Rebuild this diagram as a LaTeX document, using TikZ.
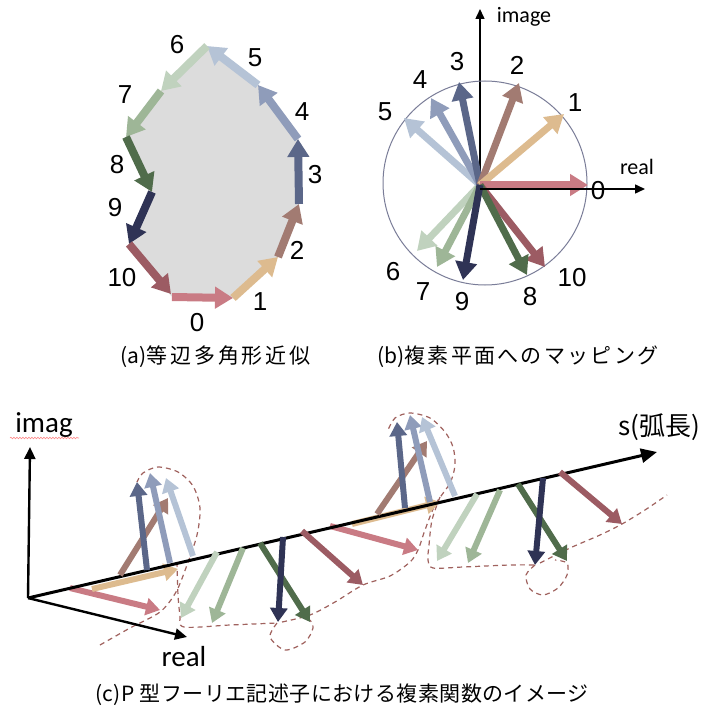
\documentclass[tikz,border=0pt]{standalone}
\usepackage{fontspec}
\setmainfont{Liberation Sans}
\newfontfamily\cjk{Noto Sans CJK JP}
\newfontfamily\cjkA[LetterSpace=14]{Noto Sans CJK JP}
\newfontfamily\cjkB[LetterSpace=11]{Noto Sans CJK JP}
\newfontfamily\cjkC[LetterSpace=2]{Noto Sans CJK JP}
\newfontfamily\calfont{Carlito}
\usetikzlibrary{arrows.meta,decorations.pathmorphing}
\definecolor{c0}{HTML}{C97B84}
\definecolor{c1}{HTML}{DDBB8F}
\definecolor{c2}{HTML}{A27B72}
\definecolor{c3}{HTML}{5B6789}
\definecolor{c4}{HTML}{8F9CBA}
\definecolor{c5}{HTML}{B5C3D6}
\definecolor{c6}{HTML}{C0D2BE}
\definecolor{c7}{HTML}{9EB697}
\definecolor{c8}{HTML}{506C4B}
\definecolor{c9}{HTML}{2F3355}
\definecolor{c10}{HTML}{9C5B63}
\definecolor{dashc}{HTML}{A0625E}
\definecolor{circc}{HTML}{7A7D98}
\definecolor{polyc}{HTML}{DCDCDC}
\begin{document}
\begin{tikzpicture}[x=1pt,y=-1pt,
  arrA/.style={line width=8pt,-{Triangle[length=18pt,width=21pt]}},
  arrB/.style={line width=7pt,-{Triangle[length=18pt,width=21pt]}},
  arrC/.style={line width=6pt,-{Triangle[length=14pt,width=17pt]}},
  axB/.style={line width=1.5pt,-{Triangle[length=10pt,width=9pt]}},
  axC/.style={line width=2.4pt,-{Triangle[length=12pt,width=11pt]}},
  num/.style={font=\fontsize{26}{26}\selectfont, inner sep=0pt},
  lbl/.style={font=\calfont\fontsize{22}{22}\selectfont, inner sep=0pt},
  lblc/.style={font=\calfont\fontsize{29}{29}\selectfont, inner sep=0pt},
  captxt/.style={font=\cjk\fontsize{21}{21}\selectfont, inner sep=0pt, anchor=west},
  dsh/.style={draw=dashc, line width=1.2pt, dash pattern=on 5pt off 4pt},
]
\fill[white] (0,0) rectangle (708,711);
\useasboundingbox (0,0) rectangle (708,711);

% ---------------- panel (a)
\coordinate (a0) at (172,297);
\coordinate (a1) at (233,298);
\coordinate (a2) at (278,257);
\coordinate (a3) at (299,204);
\coordinate (a4) at (298,139);
\coordinate (a5) at (258,85);
\coordinate (a6) at (207,46);
\coordinate (a7) at (161,91);
\coordinate (a8) at (126,137);
\coordinate (a9) at (152,192);
\coordinate (a10) at (129,244);
\coordinate (a11) at (171,294);
\fill[polyc] (a0) -- (a1) -- (a2) -- (a3) -- (a4) -- (a5) -- (a6) -- (a7) -- (a8) -- (a9) -- (a10) -- cycle;
\draw[arrA,c0] (a0) -- (a1);
\draw[arrA,c1] (a1) -- (a2);
\draw[arrA,c2] (a2) -- (a3);
\draw[arrA,c3] (a3) -- (a4);
\draw[arrA,c4] (a4) -- (a5);
\draw[arrA,c5] (a5) -- (a6);
\draw[arrA,c6] (a6) -- (a7);
\draw[arrA,c7] (a7) -- (a8);
\draw[arrA,c8] (a8) -- (a9);
\draw[arrA,c9] (a9) -- (a10);
\draw[arrA,c10] (a10) -- (a11);
\node[num] (la0) at (197,323) {0};
\node[num] (la1) at (260,302) {1};
\node[num] (la2) at (297,250) {2};
\node[num] (la3) at (315,175) {3};
\node[num] (la4) at (302,112) {4};
\node[num] (la5) at (255,58) {5};
\node[num] (la6) at (177,45) {6};
\node[num] (la7) at (125,95) {7};
\node[num] (la8) at (117,165) {8};
\node[num] (la9) at (115,208) {9};
\node[num] (la10) at (122,278) {10};

% ---------------- panel (b)
\coordinate (bo) at (480,185);
\coordinate (bimg) at (480,9);
\coordinate (bax) at (480,189);
\coordinate (breal) at (645,189);
\draw[axB] (bo) -- (bimg);
\draw[circc,line width=1pt] (485,183) circle [radius=102pt];
\coordinate (b0) at (588,185);
\coordinate (b1) at (564,114);
\coordinate (b2) at (519,83);
\coordinate (b3) at (459,82);
\coordinate (b4) at (431,98);
\coordinate (b5) at (404,118);
\coordinate (b6) at (417,251);
\coordinate (b7) at (437,267);
\coordinate (b8) at (527,275);
\coordinate (b9) at (463,280);
\coordinate (b10) at (545,267);
\draw[arrB,c6] (bo) -- (b6);
\draw[arrB,c7] (bo) -- (b7);
\draw[arrB,c5] (bo) -- (b5);
\draw[arrB,c4] (bo) -- (b4);
\draw[arrB,c3] (bo) -- (b3);
\draw[arrB,c2] (bo) -- (b2);
\draw[arrB,c1] (bo) -- (b1);
\draw[arrB,c0] (bo) -- (b0);
\draw[arrB,c10] (bo) -- (b10);
\draw[arrB,c8] (bo) -- (b8);
\draw[arrB,c9] (bo) -- (b9);
\node[num] (lb0) at (598,191) {0};
\node[num] (lb1) at (575,103) {1};
\node[num] (lb2) at (517,65) {2};
\node[num] (lb3) at (457,62) {3};
\node[num] (lb4) at (420,80) {4};
\node[num] (lb5) at (385,112) {5};
\node[num] (lb6) at (393,272) {6};
\node[num] (lb7) at (423,292) {7};
\node[num] (lb8) at (530,297) {8};
\node[num] (lb9) at (462,302) {9};
\node[num] (lb10) at (572,278) {10};
\draw[axB] (bax) -- (breal);
\node[lbl] (limage) at (524,17) {image};
\node[lbl] (lreal) at (637,167) {real};

% captions
\node[captxt] (capa) at (120,357) {(a){\cjkA\fontsize{21}{21}\selectfont 等辺多角形近似}};
\node[captxt] (capb) at (377,357) {(b){\cjkB\fontsize{21}{21}\selectfont 複素平面へのマッピング}};
\node[captxt] (capc) at (95,695) {{\cjkC\fontsize{21}{21}\selectfont (c)P 型フーリエ記述子における複素関数のイメージ}};

% ---------------- panel (c)
\coordinate (co) at (28,598);
\coordinate (cimag) at (30,447);
\coordinate (creal) at (187,637);
\coordinate (cs) at (657,452);
\node[lblc] (limag) at (44,425) {imag};
\draw[decorate,decoration={snake,amplitude=0.8pt,segment length=3pt},draw=red!45,line width=0.6pt] (10,438) -- (79,438);
\node[lblc] (lrealc) at (184,657) {real};
\node[font=\cjk\fontsize{26}{26}\selectfont,inner sep=0pt] (ls) at (659,427) {s(弧長)};

% dashed trajectory
\draw[dsh] plot[smooth] coordinates {(100,645) (130,628) (160,612) (176,592) (187,565) (197,535) (200,508) (193,486) (178,472) (158,467) (143,473) (137,482)};
\draw[dsh] plot[smooth] coordinates {(177,562) (178,595) (180,615) (184,627) (230,625) (277,623)};
\draw[dsh] plot[smooth] coordinates {(277,623) (270,637) (285,650) (305,642) (313,628) (310,620)};
\draw[dsh] plot[smooth] coordinates {(282,622) (310,615) (335,602) (363,585) (390,576) (410,562) (418,550) (425,530) (435,505) (450,483) (455,465) (453,447) (445,432) (430,418) (410,413) (395,418) (388,430)};
\draw[dsh] plot[smooth] coordinates {(440,497) (432,520) (429,545) (428,560) (433,568) (463,567) (510,565) (535,565)};
\draw[dsh] plot[smooth] coordinates {(535,565) (526,575) (530,589) (543,595) (558,588) (567,575) (567,563) (555,560)};
\draw[dsh] plot[smooth] coordinates {(540,563) (570,548) (600,535) (622,524) (645,510) (667,495)};

% axes
\draw[axC] (co) -- (cimag);
\draw[axC] (co) -- (creal);

% cluster 1
\coordinate (p0s) at (70,588);  \coordinate (p0e) at (160,610);
\coordinate (p1s) at (92,589);  \coordinate (p1e) at (178,569);
\coordinate (p2s) at (120,575); \coordinate (p2e) at (168,498);
\coordinate (p3s) at (147,570); \coordinate (p3e) at (137,482);
\coordinate (p4s) at (170,563); \coordinate (p4e) at (150,473);
\coordinate (p5s) at (193,556); \coordinate (p5e) at (166,478);
\coordinate (p6s) at (217,552); \coordinate (p6e) at (181,618);
\coordinate (p7s) at (243,548); \coordinate (p7e) at (212,623);
\coordinate (p8s) at (260,543); \coordinate (p8e) at (310,622);
\coordinate (p9s) at (283,537); \coordinate (p9e) at (278,622);
\coordinate (p10s) at (302,531); \coordinate (p10e) at (363,585);
% cluster 2
\coordinate (q0s) at (330,526); \coordinate (q0e) at (418,550);
\coordinate (q1s) at (352,524); \coordinate (q1e) at (440,502);
\coordinate (q2s) at (377,514); \coordinate (q2e) at (427,441);
\coordinate (q3s) at (405,508); \coordinate (q3e) at (397,422);
\coordinate (q4s) at (430,502); \coordinate (q4e) at (410,415);
\coordinate (q5s) at (455,496); \coordinate (q5e) at (422,417);
\coordinate (q6s) at (477,494); \coordinate (q6e) at (437,561);
\coordinate (q7s) at (500,490); \coordinate (q7e) at (468,563);
\coordinate (q8s) at (518,484); \coordinate (q8e) at (567,561);
\coordinate (q9s) at (543,478); \coordinate (q9e) at (535,565);
\coordinate (q10s) at (560,472); \coordinate (q10e) at (622,524);

\draw[arrC,c0] (p0s) -- (p0e);
\draw[arrC,c1] (p1s) -- (p1e);
\draw[arrC,c0] (q0s) -- (q0e);
\draw[arrC,c1] (q1s) -- (q1e);
\draw[line width=3pt,-{Triangle[length=16pt,width=14pt]}] (co) -- (cs);
\draw[arrC,c2] (p2s) -- (p2e);
\draw[arrC,c3] (p3s) -- (p3e);
\draw[arrC,c4] (p4s) -- (p4e);
\draw[arrC,c5] (p5s) -- (p5e);
\draw[arrC,c6] (p6s) -- (p6e);
\draw[arrC,c7] (p7s) -- (p7e);
\draw[arrC,c8] (p8s) -- (p8e);
\draw[arrC,c9] (p9s) -- (p9e);
\draw[arrC,c10] (p10s) -- (p10e);
\draw[arrC,c2] (q2s) -- (q2e);
\draw[arrC,c3] (q3s) -- (q3e);
\draw[arrC,c4] (q4s) -- (q4e);
\draw[arrC,c5] (q5s) -- (q5e);
\draw[arrC,c6] (q6s) -- (q6e);
\draw[arrC,c7] (q7s) -- (q7e);
\draw[arrC,c8] (q8s) -- (q8e);
\draw[arrC,c9] (q9s) -- (q9e);
\draw[arrC,c10] (q10s) -- (q10e);
\end{tikzpicture}
\end{document}
